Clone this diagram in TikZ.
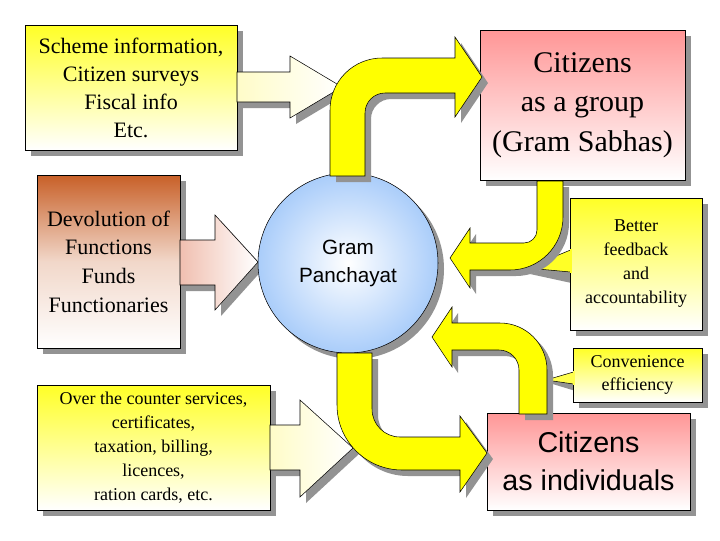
\documentclass[tikz,border=0pt]{standalone}
\usepackage{fontspec}
\setmainfont{Liberation Serif}
\newfontfamily\timesf{Liberation Serif}
\newfontfamily\arialf{Liberation Sans}
\usetikzlibrary{shadows}
\definecolor{yel}{RGB}{255,255,0}
\definecolor{ltyel}{RGB}{255,252,200}
\definecolor{pinkr}{RGB}{255,150,150}
\definecolor{brn}{RGB}{200,96,40}
\definecolor{ltblue}{RGB}{170,205,250}
\begin{document}
\begin{tikzpicture}[x=0.75pt,y=-0.75pt,
  sh/.style={drop shadow={shadow xshift=4.5pt,shadow yshift=-4.5pt,fill=gray!85,opacity=1}},
  ybox/.style={draw=black,thin,sh,top color=yel!85,bottom color=white,align=center,inner sep=0pt},
  rbox/.style={draw=black,thin,sh,top color=pinkr,bottom color=white,align=center,inner sep=0pt},
  barrow/.style={draw=black,thin,sh,fill=yel},
  larrow/.style={draw=black,thin,sh,left color=ltyel,right color=white}]
\useasboundingbox (0,0) rectangle (720,540);
% callout pointers
\fill[gray!85] (576,256) -- (576,284) -- (530,274) -- cycle;
\fill[gray!85] (579,378) -- (579,392) -- (546,382) -- cycle;
% boxes
\node[ybox,minimum width=159pt,minimum height=93.75pt,font=\timesf\fontsize{16.5}{21}\selectfont] (b1) at (131,87.5) {Scheme information,\\Citizen surveys\\Fiscal info\\Etc.};
\node[rbox,minimum width=153.75pt,minimum height=112.5pt,font=\timesf\fontsize{22.5}{29.5}\selectfont] (b2) at (582.5,105) {Citizens\\as a group\\(Gram Sabhas)};
\node[draw=black,thin,sh,top color=brn,bottom color=white,middle color=brn!25,align=center,inner sep=0pt,minimum width=107.25pt,minimum height=129.75pt,font=\timesf\fontsize{16.5}{21.5}\selectfont] (b3) at (108.5,261.5) {Devolution of\\Functions\\Funds\\Functionaries};
\node[ybox,minimum width=174.75pt,minimum height=93.75pt,font=\timesf\fontsize{13.5}{18}\selectfont] (b4) at (153.5,447.5) {Over the counter services,\\certificates,\\taxation, billing,\\licences,\\ration cards, etc.};
\node[rbox,minimum width=152.25pt,minimum height=72.75pt,font=\arialf\fontsize{21.5}{28.5}\selectfont] (b5) at (588.5,461.5) {Citizens\\as individuals};
\node[ybox,minimum width=99pt,minimum height=99pt,font=\timesf\fontsize{13.5}{18}\selectfont] (b6) at (636,264) {Better\\feedback\\and\\accountability};
\node[ybox,minimum width=96.75pt,minimum height=40.5pt,font=\timesf\fontsize{13.5}{17.5}\selectfont] (b7) at (637.5,375) {Convenience\\efficiency};
\fill[yel!85!white,draw=black,thin] (570.5,250) -- (527,268) -- (570.5,272);
\fill[yel!70!white,draw=black,thin] (573.5,372) -- (546,380) -- (573.5,384);
\fill[yel!85!white] (570,249) rectangle (571.5,273);
\fill[yel!70!white] (573,371) rectangle (574.5,385);
% straight block arrows
\path[larrow] (237,72) -- (290,72) -- (290,56) -- (342,87) -- (290,118) -- (290,102) -- (237,102) -- cycle;
\path[draw=black,thin,sh,left color=brn!45!pink!60,right color=white] (180,240) -- (215,240) -- (215,215) -- (258,262) -- (215,310) -- (215,285) -- (180,285) -- cycle;
\path[larrow] (270,425) -- (300,425) -- (300,400) -- (353,448) -- (300,497) -- (300,470) -- (270,470) -- cycle;
% circle
\node[circle,draw=black,thin,sh,inner color=white,outer color=ltblue,minimum size=135pt,align=center,font=\arialf\fontsize{15.5}{21}\selectfont] (gp) at (348,263) {Gram\\Panchayat};
% curved arrows
\path[barrow] (330,176) -- (330,110) arc[start angle=180,end angle=270,radius=52] -- (455,58) -- (455,37) -- (482,77) -- (455,117) -- (455,93) -- (385,93) arc[start angle=270,end angle=180,radius=20] -- (365,176) -- cycle;
\path[barrow] (537,181) -- (537,230) arc[start angle=0,end angle=90,radius=13] -- (470,243) -- (470,228) -- (450,258) -- (470,288) -- (470,270) -- (510,270) arc[start angle=90,end angle=0,radius=53] -- (563,181) -- cycle;
\path[barrow] (519,414) -- (519,370) arc[start angle=0,end angle=-90,radius=20] -- (452,350) -- (452,367) -- (432,337) -- (452,307) -- (452,323) -- (500,323) arc[start angle=-90,end angle=0,radius=47] -- (547,414) -- cycle;
\path[barrow] (337,353) -- (337,405) arc[start angle=180,end angle=90,radius=65] -- (460,470) -- (460,492) -- (487,453) -- (460,416) -- (460,437) -- (400,437) arc[start angle=90,end angle=180,radius=28] -- (372,353) -- cycle;
\end{tikzpicture}
\end{document}
